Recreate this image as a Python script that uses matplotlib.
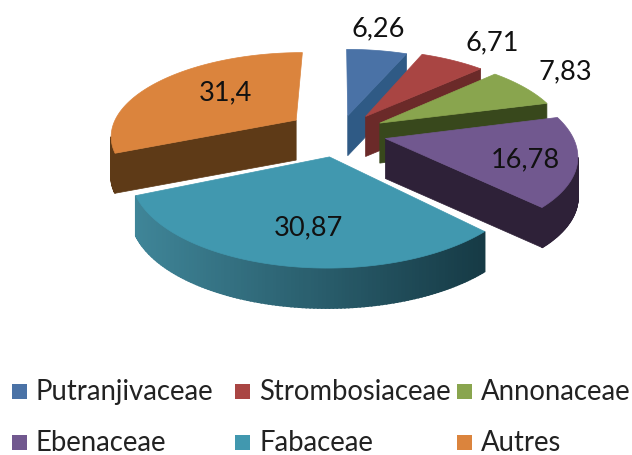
import numpy as np
import matplotlib
matplotlib.use("Agg")
import matplotlib.pyplot as plt
from matplotlib.patches import Rectangle

families = ["Putranjivaceae", "Strombosiaceae", "Annonaceae", "Ebenaceae", "Fabaceae", "Autres"]
values = [6.26, 6.71, 7.83, 16.78, 30.87, 31.4]

top_colors = ["#4A72A6", "#A94543", "#89A54E", "#71588F", "#4198AF", "#DB843D"]
side_colors = ["#2F5A85", "#6B2A29", "#38481C", "#2E2138", "#2B6677", "#5E3A17"]

# pixel layout of the fake 3D pie
cx, cy = 340, 133
rx, ry = 186, 83
persp = 0.17
depth = 40
explode = [0.22, 0.25, 0.25, 0.25, 0.28, 0.29]
label_pos = [(378, 29), (492, 43), (565, 72), (525, 160), (308, 228), (225, 93)]
legend_x = [12, 235, 457]
legend_y = [392, 443]


def project(u, v, drop=0):
    # u, v on the unit disc (v goes away from the viewer)
    s = 1 / (1 + persp * v)
    return cx + rx * u * s, cy - ry * v * s + drop


def lerp_color(c1, c2, t):
    a = np.array(matplotlib.colors.to_rgb(c1))
    b = np.array(matplotlib.colors.to_rgb(c2))
    return a + (b - a) * t


fig = plt.figure(figsize=(6.32, 4.55), dpi=100)
ax = fig.add_axes([0, 0, 1, 1])
ax.set_xlim(0, 632)
ax.set_ylim(455, 0)
ax.axis("off")

edges = np.cumsum([0] + values) / sum(values) * 2 * np.pi

# back slices first, the front ones overlap them
for i in [5, 0, 1, 2, 3, 4]:
    t0, t1 = edges[i], edges[i + 1]
    mid = (t0 + t1) / 2
    ou, ov = explode[i] * np.sin(mid), explode[i] * np.cos(mid)
    th = np.linspace(t0, t1, 120)
    us = ou + np.sin(th)
    vs = ov + np.cos(th)
    x, y = project(us, vs)
    xb, yb = project(us, vs, depth)
    ax0, ay0 = project(ou, ov)
    ax1, ay1 = project(ou, ov, depth)

    # radial wall, only when it faces the viewer
    if np.sin(t1) > 0:
        ax.fill([ax0, x[-1], xb[-1], ax1], [ay0, y[-1], yb[-1], ay1],
                color=side_colors[i], lw=0.5, zorder=i)
    if np.sin(t0) < 0:
        ax.fill([ax0, x[0], xb[0], ax1], [ay0, y[0], yb[0], ay1],
                color=side_colors[i], lw=0.5, zorder=i)

    # outer wall, only on the stretch running leftwards along the front
    for j in range(len(th) - 1):
        if x[j + 1] < x[j]:
            c = side_colors[i]
            if families[i] == "Fabaceae":
                c = lerp_color("#3F8598", "#163A45", (x[j] - x[-1]) / (x[0] - x[-1]))
            ax.fill([x[j], x[j + 1], xb[j + 1], xb[j]], [y[j], y[j + 1], yb[j + 1], yb[j]],
                    color=c, lw=1.2, zorder=i)

    ax.fill(np.r_[ax0, x], np.r_[ay0, y], color=top_colors[i], lw=0.5, zorder=i + 0.5)

for v, (px, py) in zip(values, label_pos):
    ax.text(px, py, str(v).replace(".", ","), ha="center", va="center",
            fontsize=19.5, family="Lato", color="#111111", zorder=10)

# legend laid out by hand, row by row
for k, name in enumerate(families):
    lx = legend_x[k % 3]
    ly = legend_y[k // 3]
    ax.add_patch(Rectangle((lx, ly - 8), 15, 15, facecolor=top_colors[k], edgecolor="none"))
    ax.text(lx + 24, ly, name, ha="left", va="center", fontsize=19.8,
            family="Lato", color="#222222")

fig.savefig("out.png", dpi=100)
